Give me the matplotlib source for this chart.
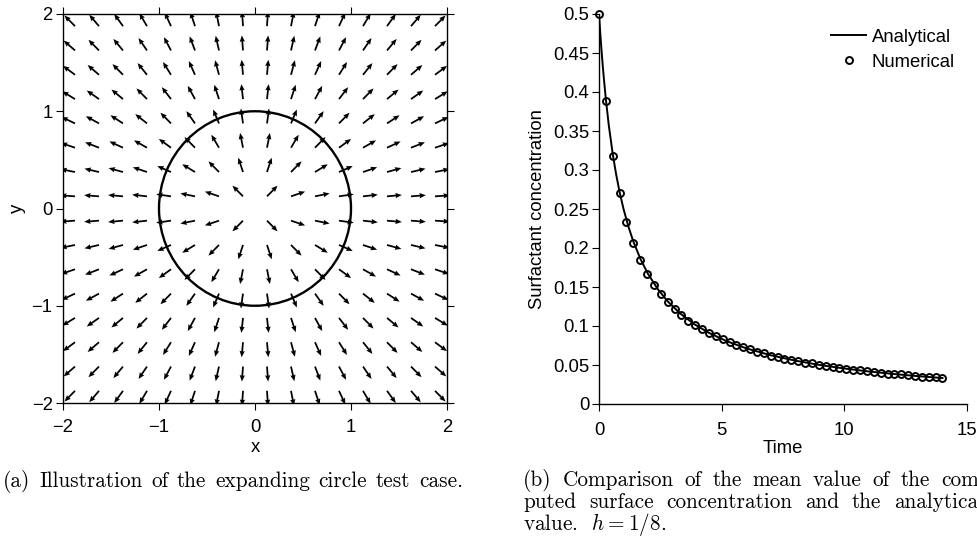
import numpy as np
import matplotlib
matplotlib.use("Agg")
import matplotlib.pyplot as plt
from matplotlib.patches import Circle

plt.rcParams['font.family'] = ['Liberation Sans', 'DejaVu Sans']
plt.rcParams['mathtext.fontset'] = 'cm'

# ---------------- data ----------------
grid_coords = [-1.875, -1.625, -1.375, -1.125, -0.875, -0.625, -0.375, -0.125,
               0.125, 0.375, 0.625, 0.875, 1.125, 1.375, 1.625, 1.875]
arrow_length = 0.155
circle_radius = 1.0
ticks_left = [-2, -1, 0, 1, 2]

time = [0.00, 0.28, 0.56, 0.84, 1.12, 1.40, 1.68, 1.96, 2.24, 2.52, 2.80,
        3.08, 3.36, 3.64, 3.92, 4.20, 4.48, 4.76, 5.04, 5.32, 5.60, 5.88,
        6.16, 6.44, 6.72, 7.00, 7.28, 7.56, 7.84, 8.12, 8.40, 8.68, 8.96,
        9.24, 9.52, 9.80, 10.08, 10.36, 10.64, 10.92, 11.20, 11.48, 11.76,
        12.04, 12.32, 12.60, 12.88, 13.16, 13.44, 13.72, 14.00]
numerical = [0.500, 0.389, 0.318, 0.270, 0.233, 0.206, 0.185, 0.167, 0.153,
             0.141, 0.131, 0.122, 0.114, 0.107, 0.101, 0.096, 0.091, 0.087,
             0.083, 0.079, 0.076, 0.073, 0.070, 0.067, 0.065, 0.062, 0.060,
             0.058, 0.057, 0.055, 0.053, 0.052, 0.050, 0.049, 0.048, 0.046,
             0.045, 0.044, 0.043, 0.042, 0.041, 0.040, 0.039, 0.038, 0.038,
             0.037, 0.036, 0.035, 0.035, 0.034, 0.033]
analytical_time = [0, 0.05, 0.1, 0.15, 0.2, 0.28, 0.4, 0.56, 0.7, 0.84, 1.0,
                   1.2, 1.4, 1.7, 2.0, 2.4, 2.8, 3.3, 3.9, 4.5, 5.2, 6.0, 7.0,
                   8.0, 9.0, 10.0, 11.0, 12.0, 13.0, 14.0]
analytical = [0.5, 0.4762, 0.4545, 0.4348, 0.4167, 0.3906, 0.3571, 0.3205,
              0.2941, 0.2717, 0.25, 0.2273, 0.2083, 0.1852, 0.1667, 0.1471,
              0.1316, 0.1163, 0.1020, 0.0909, 0.0806, 0.0714, 0.0625, 0.0556,
              0.05, 0.0455, 0.0417, 0.0385, 0.0357, 0.0333]
yticks_right = [0, 0.05, 0.1, 0.15, 0.2, 0.25, 0.3, 0.35, 0.4, 0.45, 0.5]
yticklabels_right = ['0', '0.05', '0.1', '0.15', '0.2', '0.25', '0.3',
                     '0.35', '0.4', '0.45', '0.5']
xticks_right = [0, 5, 10, 15]

caption_a = "(a) Illustration of the expanding circle test case."
caption_b_lines = ["(b) Comparison of the mean value of the com-",
                   "puted surface concentration and the analytical",
                   "value.  $h=1/8$."]

# ---------------- figure ----------------
W, H = 978, 546
fig = plt.figure(figsize=(W / 100, H / 100), dpi=100)
FS = 13.3
CFS = 15.3

# left panel
ax1 = fig.add_axes([63 / W, 1 - 403 / H, 384 / W, 389 / H])
X, Y = np.meshgrid(np.array(grid_coords), np.array(grid_coords))
R = np.hypot(X, Y)
U = arrow_length * X / R
V = arrow_length * Y / R
ax1.quiver(X, Y, U, V, angles='xy', scale_units='xy', scale=1, pivot='tail',
           color='k', width=0.0046, headwidth=3.0, headlength=3.6,
           headaxislength=3.3)
ax1.add_patch(Circle((0, 0), circle_radius, fill=False, ec='k', lw=1.7))
ax1.set_xlim(-2, 2)
ax1.set_ylim(-2, 2)
ax1.set_xticks(ticks_left)
ax1.set_yticks(ticks_left)
ax1.tick_params(direction='out', length=5, width=0.8, labelsize=FS, pad=2.5,
                top=True, right=True)
ax1.tick_params(axis='x', pad=6.5)
for s in ax1.spines.values():
    s.set_linewidth(1.0)
ax1.set_xlabel('x', fontsize=FS, labelpad=2.5)
ax1.set_ylabel('y', fontsize=FS, labelpad=4)

# right panel
ax2 = fig.add_axes([599 / W, 1 - 404 / H, 368 / W, 390 / H])
ax2.plot(analytical_time, analytical, color='k', lw=1.4, label='Analytical')
ax2.plot(time, numerical, ls='none', marker='o', ms=5, mfc='none', mec='k',
         mew=1.4, label='Numerical', clip_on=False)
ax2.set_xlim(0, 15)
ax2.set_ylim(0, 0.5)
ax2.set_xticks(xticks_right)
ax2.set_yticks(yticks_right)
ax2.set_yticklabels(yticklabels_right)
ax2.spines['top'].set_visible(False)
ax2.spines['right'].set_visible(False)
for s in ('left', 'bottom'):
    ax2.spines[s].set_linewidth(1.0)
ax2.tick_params(direction='out', length=5, width=0.8, labelsize=FS, pad=2)
ax2.tick_params(axis='x', pad=8)
ax2.set_xlabel('Time', fontsize=FS, labelpad=1)
ax2.set_ylabel('Surfactant concentration', fontsize=FS, labelpad=5)
ax2.legend(loc='upper right', bbox_to_anchor=(0.967, 0.962), frameon=False,
           fontsize=FS, handlelength=1.9, handletextpad=0.3,
           labelspacing=0.42, borderpad=0, borderaxespad=0)

# captions (justified word placement, LaTeX-like)
renderer = fig.canvas.get_renderer()


def place_line(text, x0, y, x1=None):
    words = text.split()
    if x1 is None:
        fig.text(x0 / W, 1 - y / H, text, family='cmr10', fontsize=CFS,
                 va='baseline', ha='left')
        return
    objs = [fig.text(0, 1 - y / H, w, family='cmr10', fontsize=CFS,
                     va='baseline', ha='left') for w in words]
    widths = [o.get_window_extent(renderer).width for o in objs]
    gap = (x1 - x0 - sum(widths)) / (len(words) - 1)
    x = x0
    for o, w in zip(objs, widths):
        o.set_x(x / W)
        x += w + gap


place_line(caption_a, 3, 487, 463)
place_line(caption_b_lines[0], 523, 486, 986)
place_line(caption_b_lines[1], 523, 508, 984)
place_line(caption_b_lines[2], 523, 530)

fig.savefig('out.png', dpi=100)
